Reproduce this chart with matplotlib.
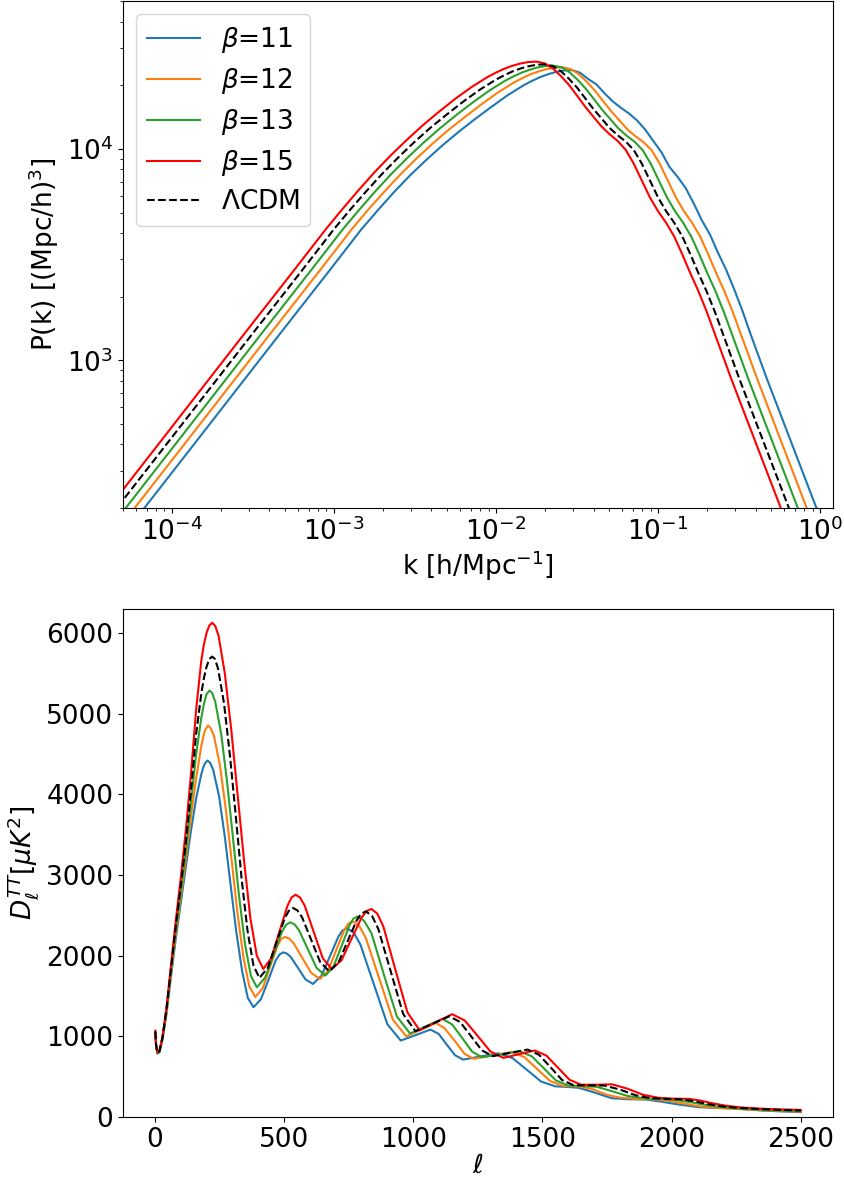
import numpy as np
import matplotlib
matplotlib.use("Agg")
import matplotlib.pyplot as plt

plt.rcParams['font.size'] = 19

labels = [r'$\beta$=11', r'$\beta$=12', r'$\beta$=13', r'$\beta$=15', r'$\Lambda$CDM']
colors = ['tab:blue', 'tab:orange', 'tab:green', 'red', 'black']
styles = ['-', '-', '-', '-', '--']

# matter power spectrum: log10 k [h/Mpc] and log10 P(k) for each model
logk_b11 = [-4.33, -3.83, -3.33, -3.03, -2.83, -2.73, -2.63, -2.53, -2.43, -2.33, -2.23, -2.13, -2.03,
            -1.93, -1.83, -1.78, -1.73, -1.68, -1.63, -1.58, -1.53, -1.48, -1.43, -1.38, -1.33, -1.28,
            -1.23, -1.18, -1.13, -1.08, -1.03, -0.98, -0.93, -0.88, -0.83, -0.78, -0.73, -0.68, -0.63,
            -0.58, -0.53, -0.48, -0.43, -0.38, -0.33, -0.28, -0.23, -0.13, -0.03, 0.07, 0.17, 0.27]
logpk_b11 = [2.143, 2.635, 3.128, 3.422, 3.620, 3.709, 3.795, 3.875, 3.948, 4.017, 4.081, 4.141, 4.198,
             4.253, 4.301, 4.321, 4.339, 4.353, 4.364, 4.371, 4.373, 4.360, 4.330, 4.305, 4.263, 4.225,
             4.195, 4.168, 4.135, 4.092, 4.038, 3.985, 3.915, 3.868, 3.815, 3.742, 3.662, 3.595, 3.508,
             3.428, 3.335, 3.235, 3.125, 3.020, 2.915, 2.815, 2.715, 2.515, 2.315, 2.115, 1.915, 1.715]
logk_b12 = [-4.39, -3.89, -3.39, -3.09, -2.89, -2.79, -2.69, -2.59, -2.49, -2.39, -2.29, -2.19, -2.09,
            -1.99, -1.89, -1.84, -1.79, -1.74, -1.69, -1.64, -1.59, -1.54, -1.49, -1.44, -1.39, -1.34,
            -1.29, -1.24, -1.19, -1.14, -1.09, -1.04, -0.99, -0.94, -0.89, -0.84, -0.79, -0.74, -0.69,
            -0.64, -0.59, -0.54, -0.49, -0.44, -0.39, -0.34, -0.29, -0.19, -0.09, 0.01, 0.11, 0.21]
logpk_b12 = [2.143, 2.635, 3.128, 3.422, 3.620, 3.711, 3.797, 3.879, 3.955, 4.026, 4.092, 4.152, 4.211,
             4.266, 4.314, 4.334, 4.352, 4.366, 4.377, 4.384, 4.386, 4.378, 4.354, 4.318, 4.276, 4.227,
             4.179, 4.136, 4.093, 4.060, 4.032, 3.994, 3.930, 3.850, 3.770, 3.705, 3.650, 3.585, 3.500,
             3.410, 3.325, 3.230, 3.125, 3.020, 2.915, 2.815, 2.715, 2.515, 2.315, 2.115, 1.915, 1.715]
logk_b13 = [-4.445, -3.945, -3.445, -3.145, -2.945, -2.845, -2.745, -2.645, -2.545, -2.445, -2.345,
            -2.245, -2.145, -2.045, -1.945, -1.895, -1.845, -1.795, -1.745, -1.695, -1.645, -1.595,
            -1.545, -1.495, -1.445, -1.395, -1.345, -1.295, -1.245, -1.195, -1.145, -1.095, -1.045,
            -0.995, -0.945, -0.895, -0.845, -0.795, -0.745, -0.695, -0.645, -0.595, -0.545, -0.495,
            -0.445, -0.395, -0.345, -0.245, -0.145, -0.045, 0.055, 0.155]
logpk_b13 = [2.143, 2.635, 3.128, 3.422, 3.620, 3.711, 3.799, 3.882, 3.959, 4.031, 4.098, 4.160, 4.219,
             4.274, 4.322, 4.342, 4.360, 4.374, 4.385, 4.392, 4.394, 4.386, 4.362, 4.326, 4.284, 4.235,
             4.185, 4.141, 4.097, 4.063, 4.034, 3.994, 3.930, 3.850, 3.770, 3.705, 3.650, 3.585, 3.500,
             3.410, 3.325, 3.230, 3.125, 3.020, 2.915, 2.815, 2.715, 2.515, 2.315, 2.115, 1.915, 1.715]
logk_b15 = [-4.55, -4.05, -3.55, -3.25, -3.05, -2.95, -2.85, -2.75, -2.65, -2.55, -2.45, -2.35, -2.25,
            -2.15, -2.05, -2.0, -1.95, -1.9, -1.85, -1.8, -1.75, -1.7, -1.65, -1.6, -1.55, -1.5, -1.45,
            -1.4, -1.35, -1.3, -1.25, -1.2, -1.15, -1.1, -1.05, -1.0, -0.95, -0.9, -0.85, -0.8, -0.75,
            -0.7, -0.65, -0.6, -0.55, -0.5, -0.45, -0.35, -0.25, -0.15, -0.05, 0.05]
logpk_b15 = [2.143, 2.635, 3.128, 3.422, 3.620, 3.713, 3.803, 3.889, 3.969, 4.043, 4.113, 4.177, 4.238,
             4.293, 4.341, 4.361, 4.379, 4.393, 4.404, 4.411, 4.413, 4.405, 4.381, 4.345, 4.303, 4.252,
             4.200, 4.153, 4.107, 4.070, 4.038, 3.996, 3.930, 3.850, 3.770, 3.705, 3.650, 3.585, 3.500,
             3.410, 3.325, 3.230, 3.125, 3.020, 2.915, 2.815, 2.715, 2.515, 2.315, 2.115, 1.915, 1.715]
logk_lcdm = [-4.5, -4.0, -3.5, -3.2, -3.0, -2.9, -2.8, -2.7, -2.6, -2.5, -2.4, -2.3, -2.2, -2.1, -2.0,
             -1.95, -1.9, -1.85, -1.8, -1.75, -1.7, -1.65, -1.6, -1.55, -1.5, -1.45, -1.4, -1.35, -1.3,
             -1.25, -1.2, -1.15, -1.1, -1.05, -1.0, -0.95, -0.9, -0.85, -0.8, -0.75, -0.7, -0.65, -0.6,
             -0.55, -0.5, -0.45, -0.4, -0.3, -0.2, -0.1, 0.0, 0.1]
logpk_lcdm = [2.143, 2.635, 3.128, 3.422, 3.620, 3.712, 3.800, 3.884, 3.962, 4.035, 4.103, 4.165, 4.225,
              4.280, 4.328, 4.348, 4.366, 4.380, 4.391, 4.398, 4.400, 4.392, 4.368, 4.332, 4.290, 4.240,
              4.190, 4.145, 4.100, 4.065, 4.035, 3.995, 3.930, 3.850, 3.770, 3.705, 3.650, 3.585, 3.500,
              3.410, 3.325, 3.230, 3.125, 3.020, 2.915, 2.815, 2.715, 2.515, 2.315, 2.115, 1.915, 1.715]

# CMB TT spectrum D_ell in muK^2
ell_b11 = [2, 5, 10, 18, 30, 45, 60, 80, 100, 120, 140, 160, 180, 188, 195, 204, 215, 226, 249, 271,
           293, 315, 338, 360, 382, 411, 440, 468, 483, 497, 511, 526, 555, 583, 612, 645, 678, 711,
           727, 744, 770, 796, 848, 900, 952, 1010, 1067, 1099, 1130, 1162, 1193, 1262, 1330, 1385,
           1440, 1495, 1550, 1600, 1640, 1680, 1717, 1768, 1830, 1898, 1960, 2027, 2105, 2160, 2221,
           2290, 2349, 2420, 2500]
dl_b11 = [1045, 880, 785, 800, 965, 1270, 1670, 2180, 2640, 3100, 3550, 3950, 4250, 4340, 4390, 4421,
          4390, 4305, 3974, 3475, 2891, 2307, 1808, 1477, 1361, 1461, 1702, 1942, 2016, 2042, 2027,
          1985, 1846, 1707, 1650, 1751, 1995, 2239, 2314, 2340, 2287, 2137, 1644, 1151, 948, 1016,
          1084, 1030, 898, 766, 712, 751, 790, 730, 585, 440, 380, 372, 362, 325, 287, 233, 220, 217,
          190, 155, 122, 113, 109, 95, 80, 70, 60]
ell_b12 = [2, 5, 10, 18, 30, 45, 60, 80, 100, 120, 140, 160, 180, 188, 195, 206, 217, 229, 252, 275,
           298, 320, 343, 366, 389, 418, 446, 475, 489, 503, 520, 537, 571, 605, 639, 671, 702, 734,
           749, 765, 791, 817, 869, 921, 973, 1031, 1088, 1121, 1161, 1198, 1234, 1307, 1380, 1430,
           1480, 1530, 1580, 1640, 1690, 1750, 1800, 1870, 1930, 1990, 2050, 2110, 2180, 2260, 2340,
           2420, 2500]
dl_b12 = [1050, 885, 790, 805, 975, 1290, 1700, 2230, 2710, 3200, 3720, 4200, 4600, 4720, 4800, 4855,
          4820, 4727, 4364, 3815, 3172, 2529, 1980, 1617, 1489, 1598, 1861, 2124, 2205, 2233, 2213,
          2157, 1973, 1788, 1712, 1816, 2069, 2322, 2399, 2426, 2372, 2218, 1714, 1209, 1001, 1084,
          1167, 1102, 944, 786, 721, 763, 805, 744, 595, 446, 385, 378, 350, 275, 240, 222, 218, 200,
          165, 132, 112, 98, 86, 75, 66]
ell_b13 = [2, 5, 10, 18, 30, 45, 60, 80, 100, 120, 140, 160, 180, 190, 200, 211, 222, 234, 257, 280,
           303, 326, 349, 372, 395, 427, 460, 492, 508, 524, 541, 558, 592, 626, 660, 691, 723, 754,
           769, 785, 810, 839, 887, 937, 988, 1050, 1113, 1151, 1190, 1228, 1266, 1339, 1412, 1459,
           1506, 1553, 1600, 1650, 1710, 1770, 1830, 1900, 1960, 2020, 2080, 2140, 2200, 2270, 2350,
           2430, 2500]
dl_b13 = [1055, 890, 795, 810, 980, 1310, 1730, 2280, 2780, 3300, 3900, 4500, 4950, 5120, 5240, 5289,
          5260, 5149, 4752, 4152, 3449, 2746, 2146, 1749, 1609, 1727, 2012, 2296, 2383, 2414, 2389,
          2317, 2084, 1850, 1753, 1860, 2121, 2381, 2460, 2488, 2433, 2276, 1762, 1247, 1035, 1126,
          1217, 1147, 979, 811, 741, 778, 815, 753, 603, 452, 390, 385, 375, 320, 260, 228, 222, 210,
          180, 145, 120, 103, 90, 78, 72]
ell_b15 = [2, 5, 10, 18, 30, 45, 60, 80, 100, 120, 140, 160, 180, 190, 200, 211, 222, 234, 247, 271,
           296, 321, 346, 370, 395, 420, 451, 482, 514, 529, 545, 562, 580, 615, 650, 685, 723, 761,
           800, 819, 838, 861, 885, 931, 978, 1025, 1088, 1151, 1200, 1250, 1299, 1349, 1410, 1470,
           1515, 1560, 1605, 1650, 1710, 1770, 1830, 1890, 1950, 2000, 2066, 2110, 2156, 2210, 2260,
           2310, 2363, 2430, 2500]
dl_b15 = [1070, 900, 805, 820, 1000, 1350, 1800, 2400, 2950, 3550, 4250, 5050, 5660, 5860, 6000, 6095,
          6130, 6090, 5966, 5503, 4803, 3983, 3163, 2463, 1999, 1836, 1970, 2296, 2623, 2722, 2757,
          2722, 2623, 2296, 1970, 1836, 1945, 2208, 2471, 2552, 2580, 2523, 2360, 1828, 1296, 1076,
          1175, 1275, 1196, 1004, 812, 733, 779, 825, 763, 613, 462, 400, 400, 405, 350, 275, 238,
          228, 225, 205, 171, 140, 121, 110, 101, 94, 88]
ell_lcdm = [2, 5, 10, 18, 30, 45, 60, 80, 100, 120, 140, 160, 180, 190, 200, 211, 222, 233, 245, 268,
            291, 314, 336, 359, 382, 405, 438, 470, 503, 519, 535, 552, 570, 605, 640, 675, 711, 746,
            782, 799, 817, 841, 865, 913, 961, 1009, 1075, 1140, 1182, 1224, 1266, 1308, 1375, 1443,
            1487, 1532, 1576, 1620, 1680, 1740, 1800, 1860, 1920, 1980, 2040, 2090, 2140, 2200, 2260,
            2330, 2420, 2500]
dl_lcdm = [1060, 895, 800, 815, 990, 1330, 1760, 2330, 2850, 3400, 4050, 4750, 5250, 5440, 5580, 5680,
           5710, 5680, 5559, 5128, 4479, 3717, 2956, 2307, 1876, 1725, 1852, 2159, 2465, 2559, 2592,
           2562, 2477, 2200, 1922, 1807, 1915, 2179, 2442, 2522, 2550, 2493, 2333, 1807, 1280, 1063,
           1156, 1249, 1177, 1002, 826, 754, 795, 836, 772, 616, 459, 395, 392, 390, 340, 270, 232,
           225, 218, 195, 160, 130, 112, 100, 88, 80]

pk_all = [(logk_b11, logpk_b11), (logk_b12, logpk_b12), (logk_b13, logpk_b13),
          (logk_b15, logpk_b15), (logk_lcdm, logpk_lcdm)]
cmb_all = [(ell_b11, dl_b11), (ell_b12, dl_b12), (ell_b13, dl_b13),
           (ell_b15, dl_b15), (ell_lcdm, dl_lcdm)]

fig = plt.figure(figsize=(8.45, 11.8), dpi=100)
ax1 = fig.add_axes([0.1456, 0.5695, 0.8402, 0.4295])
ax2 = fig.add_axes([0.1456, 0.0534, 0.8402, 0.4305])

for (lk, lp), c, ls, lab in zip(pk_all, colors, styles, labels):
    ax1.plot(10 ** np.array(lk), 10 ** np.array(lp), color=c, linestyle=ls, label=lab)
ax1.set_xscale('log')
ax1.set_yscale('log')
ax1.set_xlim(5e-5, 1.2)
ax1.set_ylim(200, 5e4)
ax1.set_xlabel(r'k [h/Mpc$^{-1}$]', labelpad=2)
ax1.set_ylabel(r'P(k) [(Mpc/h)$^3$]')
ax1.legend(loc='upper left', fontsize=19, labelspacing=0.42)

for (l, d), c, ls in zip(cmb_all, colors, styles):
    ax2.plot(l, d, color=c, linestyle=ls)
ax2.set_ylim(0, 6300)
ax2.set_xlabel(r'$\ell$', labelpad=0)
ax2.set_ylabel(r'$D_{\ell}^{TT} [\mu K^2]$')

fig.savefig('out.png', dpi=100)
